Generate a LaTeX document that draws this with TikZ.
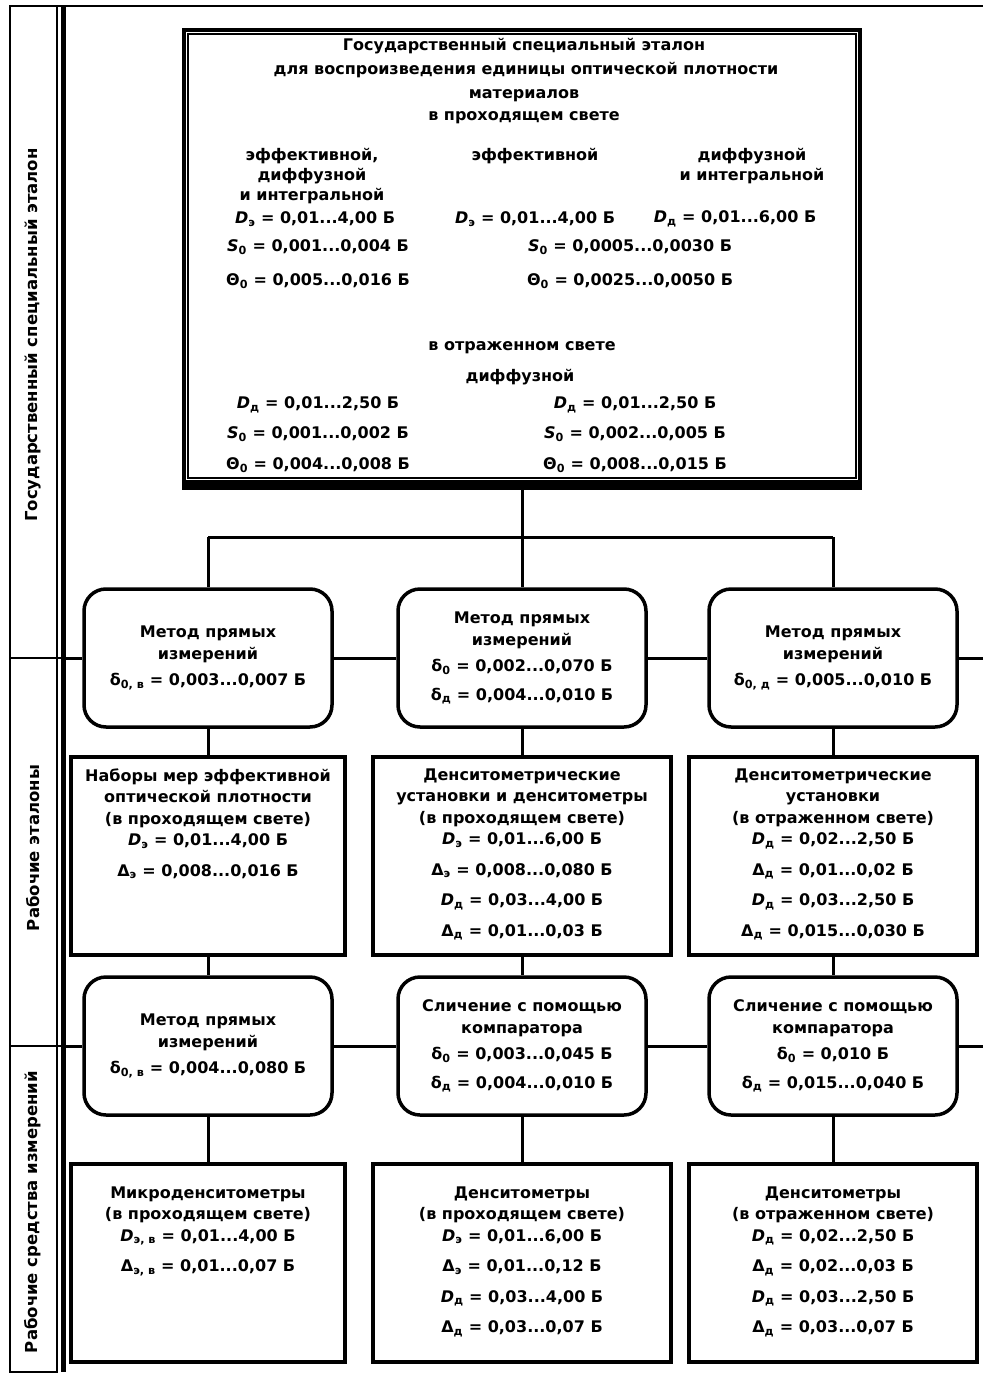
\documentclass[tikz,border=0pt]{standalone}
\usepackage{fontspec}
\setmainfont{DejaVu Sans}
\newcommand{\qs}[2]{\textit{#1}\textsubscript{#2}}
\begin{document}
\begin{tikzpicture}[x=1pt,y=-1pt,
  font=\bfseries\fontsize{16}{21.5}\selectfont,
  rbox/.style={draw, line width=3.5pt, rounded corners=22pt, minimum width=248pt, minimum height=138pt, inner sep=0pt, align=center, fill=white},
  rect/.style={draw, line width=3.5pt, minimum height=198pt, inner sep=0pt, fill=white},
  btext/.style={anchor=north, align=center, inner sep=0pt},
  lbl/.style={inner sep=0pt},
  side/.style={rotate=90, inner sep=0pt, font=\bfseries\fontsize{16.5}{20}\selectfont},
  conn/.style={line width=3pt},
  lvl/.style={line width=3pt}
]
\useasboundingbox (0,0) rectangle (983,1378);
\fill[white] (0,0) rectangle (983,1378);

% left strip
\draw[line width=2.5pt] (10,6) rectangle (57,1372);
\draw[line width=5pt] (63,6) -- (63,1372);
\draw[line width=2.5pt] (10,6) -- (983,6);
\draw[line width=2.5pt] (10,658) -- (63,658);
\draw[line width=2.5pt] (10,1046) -- (63,1046);
\node[side] (s1) at (33,335) {Государственный специальный эталон};
\node[side] (s2) at (33,848) {Рабочие эталоны};
\node[side] (s3) at (33,1212) {Рабочие средства измерений};

\coordinate (la) at (63,658);
\coordinate (lb) at (63,1046);
\coordinate (ra) at (983,658);
\coordinate (rb) at (983,1046);

% top box
\node[draw, line width=4pt, minimum width=676pt, minimum height=458pt, inner sep=0pt] (top) at (522,259) {};
\draw[line width=2pt] ([xshift=6pt,yshift=-6pt]top.north west) rectangle ([xshift=-6pt,yshift=12pt]top.south east);
\fill ([yshift=10pt]top.south west) rectangle (top.south east);

\node[lbl] (t1) at (524,46) {Государственный специальный эталон};
\node[lbl] (t2) at (526,70) {для воспроизведения единицы оптической плотности};
\node[lbl] (t3) at (524,96) {материалов};
\node[lbl] (t4) at (524,118) {в проходящем свете};
\node[lbl] (c1a) at (312,156) {эффективной,};
\node[lbl] (c1b) at (312,176) {диффузной};
\node[lbl] (c1c) at (312,196) {и интегральной};
\node[lbl] (c2a) at (535,156) {эффективной};
\node[lbl] (c3a) at (752,156) {диффузной};
\node[lbl] (c3b) at (752,176) {и интегральной};
\node[lbl] (d1) at (315,219) {\qs{D}{э} = 0,01...4,00 Б};
\node[lbl] (d2) at (535,219) {\qs{D}{э} = 0,01...4,00 Б};
\node[lbl] (d3) at (735,219) {\qs{D}{д} = 0,01...6,00 Б};
\node[lbl] (s1a) at (318,247) {\qs{S}{0} = 0,001...0,004 Б};
\node[lbl] (s2a) at (630,247) {\qs{S}{0} = 0,0005...0,0030 Б};
\node[lbl] (h1a) at (318,281) {Θ\textsubscript{0} = 0,005...0,016 Б};
\node[lbl] (h2a) at (630,281) {Θ\textsubscript{0} = 0,0025...0,0050 Б};
\node[lbl] (r0) at (522,348) {в отраженном свете};
\node[lbl] (r1) at (520,377) {диффузной};
\node[lbl] (rd1) at (318,405) {\qs{D}{д} = 0,01...2,50 Б};
\node[lbl] (rd2) at (635,405) {\qs{D}{д} = 0,01...2,50 Б};
\node[lbl] (rs1) at (318,434) {\qs{S}{0} = 0,001...0,002 Б};
\node[lbl] (rs2) at (635,434) {\qs{S}{0} = 0,002...0,005 Б};
\node[lbl] (rh1) at (318,465) {Θ\textsubscript{0} = 0,004...0,008 Б};
\node[lbl] (rh2) at (635,465) {Θ\textsubscript{0} = 0,008...0,015 Б};

% junction
\coordinate (j0) at (522,537);
\coordinate (j1) at (208,537);
\coordinate (j3) at (833,537);

% row 1
\node[rbox] (a1) at (208,658) {Метод прямых\\измерений\\[5pt]δ\textsubscript{0, в} = 0,003...0,007 Б};
\node[rbox] (a2) at (522,658) {Метод прямых\\измерений\\[5pt]δ\textsubscript{0} = 0,002...0,070 Б\\[7pt]δ\textsubscript{д} = 0,004...0,010 Б};
\node[rbox] (a3) at (833,658) {Метод прямых\\измерений\\[5pt]δ\textsubscript{0, д} = 0,005...0,010 Б};

% row 3
\node[rect, minimum width=274pt] (b1) at (208,856) {};
\node[rect, minimum width=298pt] (b2) at (522,856) {};
\node[rect, minimum width=288pt] (b3) at (833,856) {};
\node[btext] (bt1) at ([yshift=-13pt]b1.north) {Наборы мер эффективной\\оптической плотности\\(в проходящем свете)\\\qs{D}{э} = 0,01...4,00 Б\\[9pt]Δ\textsubscript{э} = 0,008...0,016 Б};
\node[btext] (bt2) at ([yshift=-13pt]b2.north) {Денситометрические\\установки и денситометры\\(в проходящем свете)\\\qs{D}{э} = 0,01...6,00 Б\\[9pt]Δ\textsubscript{э} = 0,008...0,080 Б\\[9pt]\qs{D}{д} = 0,03...4,00 Б\\[9pt]Δ\textsubscript{д} = 0,01...0,03 Б};
\node[btext] (bt3) at ([yshift=-13pt]b3.north) {Денситометрические\\установки\\(в отраженном свете)\\\qs{D}{д} = 0,02...2,50 Б\\[9pt]Δ\textsubscript{д} = 0,01...0,02 Б\\[9pt]\qs{D}{д} = 0,03...2,50 Б\\[9pt]Δ\textsubscript{д} = 0,015...0,030 Б};

% row 4
\node[rbox] (c1) at (208,1046) {Метод прямых\\измерений\\[5pt]δ\textsubscript{0, в} = 0,004...0,080 Б};
\node[rbox] (c2) at (522,1046) {Сличение с помощью\\компаратора\\[5pt]δ\textsubscript{0} = 0,003...0,045 Б\\[7pt]δ\textsubscript{д} = 0,004...0,010 Б};
\node[rbox] (c3) at (833,1046) {Сличение с помощью\\компаратора\\[5pt]δ\textsubscript{0} = 0,010 Б\\[7pt]δ\textsubscript{д} = 0,015...0,040 Б};

% row 5
\node[rect, minimum width=274pt] (e1) at (208,1263) {};
\node[rect, minimum width=298pt] (e2) at (522,1263) {};
\node[rect, minimum width=288pt] (e3) at (833,1263) {};
\node[btext] (et1) at ([yshift=-24pt]e1.north) {Микроденситометры\\(в проходящем свете)\\\qs{D}{э, в} = 0,01...4,00 Б\\[9pt]Δ\textsubscript{э, в} = 0,01...0,07 Б};
\node[btext] (et2) at ([yshift=-24pt]e2.north) {Денситометры\\(в проходящем свете)\\\qs{D}{э} = 0,01...6,00 Б\\[9pt]Δ\textsubscript{э} = 0,01...0,12 Б\\[9pt]\qs{D}{д} = 0,03...4,00 Б\\[9pt]Δ\textsubscript{д} = 0,03...0,07 Б};
\node[btext] (et3) at ([yshift=-24pt]e3.north) {Денситометры\\(в отраженном свете)\\\qs{D}{д} = 0,02...2,50 Б\\[9pt]Δ\textsubscript{д} = 0,02...0,03 Б\\[9pt]\qs{D}{д} = 0,03...2,50 Б\\[9pt]Δ\textsubscript{д} = 0,03...0,07 Б};

% connectors
\draw[conn] (top.south) -- (j0);
\draw[conn] (j1) -- (j3);
\draw[conn] (j1) -- (a1.north);
\draw[conn] (j0) -- (a2.north);
\draw[conn] (j3) -- (a3.north);
\draw[lvl] (la) -- (a1.west);
\draw[lvl] (a1.east) -- (a2.west);
\draw[lvl] (a2.east) -- (a3.west);
\draw[lvl] (a3.east) -- (ra);
\draw[conn] (a1.south) -- (b1.north);
\draw[conn] (a2.south) -- (b2.north);
\draw[conn] (a3.south) -- (b3.north);
\draw[conn] (b1.south) -- (c1.north);
\draw[conn] (b2.south) -- (c2.north);
\draw[conn] (b3.south) -- (c3.north);
\draw[lvl] (lb) -- (c1.west);
\draw[lvl] (c1.east) -- (c2.west);
\draw[lvl] (c2.east) -- (c3.west);
\draw[lvl] (c3.east) -- (rb);
\draw[conn] (c1.south) -- (e1.north);
\draw[conn] (c2.south) -- (e2.north);
\draw[conn] (c3.south) -- (e3.north);
\end{tikzpicture}
\end{document}
